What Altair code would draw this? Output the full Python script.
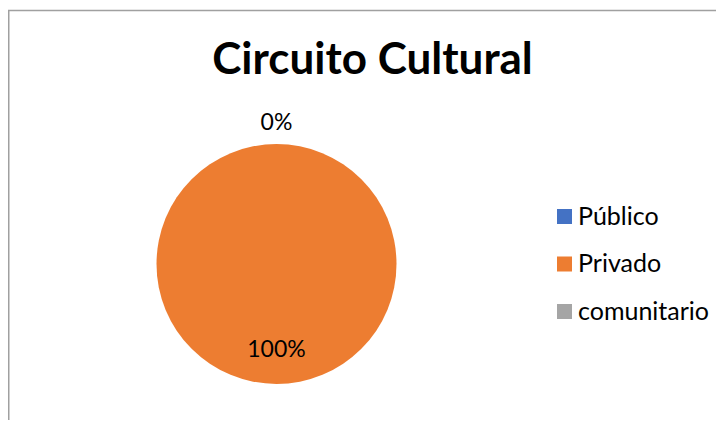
import altair as alt
import pandas as pd

# ---- data ----
categories = ["Público", "Privado", "comunitario"]
values = [0, 100, 0]
colors = ["#4472C4", "#ED7D31", "#A5A5A5"]
title_text = "Circuito Cultural"

df = pd.DataFrame({"categoria": categories, "valor": values, "orden": list(range(len(categories)))})

FONT = "Lato"
W, H = 708, 412
CX, CY = 268.5, 256
R = 120

base = alt.Chart(df).encode(
    theta=alt.Theta("valor:Q", stack=True),
    order=alt.Order("orden:Q"),
)

pie = base.mark_arc(outerRadius=R).encode(
    x=alt.value(CX),
    y=alt.value(CY),
    color=alt.Color(
        "categoria:N",
        scale=alt.Scale(domain=categories, range=colors),
        sort=categories,
        legend=alt.Legend(
            title=None,
            orient="none",
            legendX=544,
            legendY=196,
            symbolType="square",
            symbolSize=225,
            symbolStrokeWidth=0,
            symbolOpacity=1,
            labelFont=FONT,
            labelFontSize=25,
            labelColor="black",
            labelOffset=1,
            rowPadding=21.5,
            padding=0,
        ),
    ),
)

labelled = base.transform_joinaggregate(total="sum(valor)").transform_calculate(
    etiqueta="format(datum.valor / datum.total, '.0%')"
)

inner_labels = labelled.transform_filter("datum.valor > 0").mark_text(
    radius=86, font=FONT, fontSize=23, baseline="middle", align="center"
).encode(x=alt.value(CX), y=alt.value(CY), text="etiqueta:N", color=alt.value("black"))

outer_labels = (
    labelled.transform_filter("datum.valor == 0")
    .transform_window(rn="row_number()")
    .transform_filter("datum.rn == 1")
    .mark_text(radius=141, font=FONT, fontSize=23, baseline="middle", align="center")
    .encode(x=alt.value(CX), y=alt.value(CY), text="etiqueta:N", color=alt.value("black"))
)

one = pd.DataFrame({"k": [0]})
border_top = alt.Chart(one).mark_rule(color="#A0A0A0", strokeWidth=1.5).encode(
    x=alt.value(0), x2=alt.value(W), y=alt.value(2.5)
)
border_left = alt.Chart(one).mark_rule(color="#A0A0A0", strokeWidth=1.5).encode(
    x=alt.value(0.75), y=alt.value(2.5), y2=alt.value(H)
)

chart = (
    alt.layer(border_top, border_left, pie, inner_labels, outer_labels)
    .properties(
        width=W,
        height=H,
        autosize=alt.AutoSizeParams(type="none"),
        padding=0,
        background="white",
        title=alt.TitleParams(
            text=title_text,
            font=FONT,
            fontSize=44,
            fontWeight="bold",
            color="black",
            anchor="middle",
            frame="group",
            offset=0,
            dx=10.5,
            dy=110,
            baseline="alphabetic",
        ),
    )
    .configure_view(stroke=None)
)

chart.save("out.html", embed_options={"renderer": "svg", "actions": False})
